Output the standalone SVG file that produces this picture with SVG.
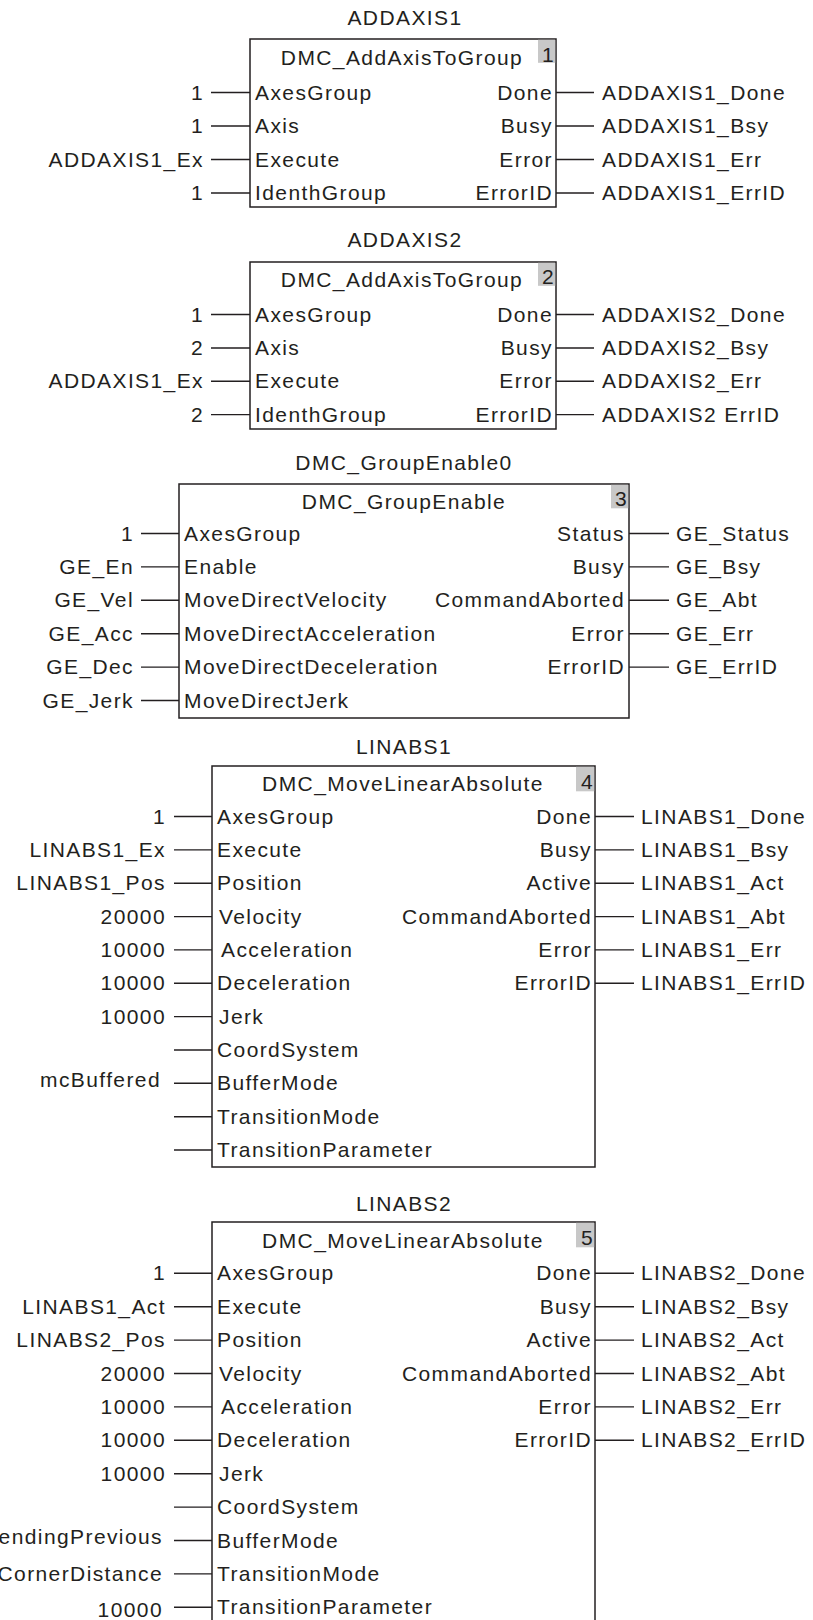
<svg xmlns="http://www.w3.org/2000/svg" width="813" height="1620" viewBox="0 0 813 1620">
<style>
.t{font-family:"Liberation Sans",Arial,sans-serif;font-size:21px;letter-spacing:1.4px;fill:#231f20}
.e{text-anchor:end}
.m{text-anchor:middle}
.box{fill:#fff;stroke:#231f20;stroke-width:1.5}
.badge{fill:#c8c8c8}
.w{stroke:#231f20;stroke-width:1.4;fill:none}
</style>
<rect width="813" height="1620" fill="#fff"/>

<g id="connectors" class="w">
<!-- block 1 -->
<path d="M211 92.5H250M211 126H250M211 159.5H250M211 193H250"/>
<path d="M556 92.5H594M556 126H594M556 159.5H594M556 193H594"/>
<!-- block 2 -->
<path d="M211 314.5H250M211 348H250M211 381.3H250M211 414.6H250"/>
<path d="M556 314.5H594M556 348H594M556 381.3H594M556 414.6H594"/>
<!-- block 3 -->
<path d="M141 533.5H179M141 566.9H179M141 600.3H179M141 633.7H179M141 667.1H179M141 700.5H179"/>
<path d="M629 533.5H669M629 566.9H669M629 600.3H669M629 633.7H669M629 667.1H669"/>
<!-- block 4 -->
<path d="M174 816.5H212M174 849.9H212M174 883.2H212M174 916.6H212M174 949.9H212M174 983.3H212M174 1016.6H212M174 1050H212M174 1083.3H212M174 1116.7H212M174 1150H212"/>
<path d="M595 816.5H634M595 849.9H634M595 883.2H634M595 916.6H634M595 949.9H634M595 983.3H634"/>
<!-- block 5 -->
<path d="M174 1273.3H212M174 1306.7H212M174 1340.1H212M174 1373.5H212M174 1406.9H212M174 1440.3H212M174 1473.7H212M174 1507.1H212M174 1540.5H212M174 1573.9H212M174 1607.3H212"/>
<path d="M595 1273.3H634M595 1306.7H634M595 1340.1H634M595 1373.5H634M595 1406.9H634M595 1440.3H634"/>
</g>

<g id="ADDAXIS1">
<rect class="box" x="250" y="39" width="306" height="168"/>
<rect class="badge" x="538" y="39.8" width="17.2" height="23"/>
<text class="t m" x="405" y="25">ADDAXIS1</text>
<text class="t m" x="402" y="65">DMC_AddAxisToGroup</text>
<text class="t e" x="555" y="61.5">1</text>
<text class="t e" x="204" y="99.5">1</text>
<text class="t e" x="204" y="133">1</text>
<text class="t e" x="204" y="166.5">ADDAXIS1_Ex</text>
<text class="t e" x="204" y="200">1</text>
<text class="t" x="255" y="99.5">AxesGroup</text>
<text class="t" x="255" y="133">Axis</text>
<text class="t" x="255" y="166.5">Execute</text>
<text class="t" x="255" y="200">IdenthGroup</text>
<text class="t e" x="553" y="99.5">Done</text>
<text class="t e" x="553" y="133">Busy</text>
<text class="t e" x="553" y="166.5">Error</text>
<text class="t e" x="553" y="200">ErrorID</text>
<text class="t" x="602" y="99.5">ADDAXIS1_Done</text>
<text class="t" x="602" y="133">ADDAXIS1_Bsy</text>
<text class="t" x="602" y="166.5">ADDAXIS1_Err</text>
<text class="t" x="602" y="200">ADDAXIS1_ErrID</text>
</g>

<g id="ADDAXIS2">
<rect class="box" x="250" y="262" width="306" height="167"/>
<rect class="badge" x="538" y="262.8" width="17.2" height="23"/>
<text class="t m" x="405" y="247">ADDAXIS2</text>
<text class="t m" x="402" y="287">DMC_AddAxisToGroup</text>
<text class="t e" x="555" y="284">2</text>
<text class="t e" x="204" y="321.5">1</text>
<text class="t e" x="204" y="355">2</text>
<text class="t e" x="204" y="388.3">ADDAXIS1_Ex</text>
<text class="t e" x="204" y="421.6">2</text>
<text class="t" x="255" y="321.5">AxesGroup</text>
<text class="t" x="255" y="355">Axis</text>
<text class="t" x="255" y="388.3">Execute</text>
<text class="t" x="255" y="421.6">IdenthGroup</text>
<text class="t e" x="553" y="321.5">Done</text>
<text class="t e" x="553" y="355">Busy</text>
<text class="t e" x="553" y="388.3">Error</text>
<text class="t e" x="553" y="421.6">ErrorID</text>
<text class="t" x="602" y="321.5">ADDAXIS2_Done</text>
<text class="t" x="602" y="355">ADDAXIS2_Bsy</text>
<text class="t" x="602" y="388.3">ADDAXIS2_Err</text>
<text class="t" x="602" y="421.6">ADDAXIS2 ErrID</text>
</g>

<g id="DMC_GroupEnable0">
<rect class="box" x="179" y="484" width="450" height="234"/>
<rect class="badge" x="611" y="484.8" width="17.2" height="23.5"/>
<text class="t m" x="404" y="470">DMC_GroupEnable0</text>
<text class="t m" x="404" y="509">DMC_GroupEnable</text>
<text class="t e" x="628" y="506">3</text>
<text class="t e" x="134" y="540.5">1</text>
<text class="t e" x="134" y="573.9">GE_En</text>
<text class="t e" x="134" y="607.3">GE_Vel</text>
<text class="t e" x="134" y="640.7">GE_Acc</text>
<text class="t e" x="134" y="674.1">GE_Dec</text>
<text class="t e" x="134" y="707.5">GE_Jerk</text>
<text class="t" x="184" y="540.5">AxesGroup</text>
<text class="t" x="184" y="573.9">Enable</text>
<text class="t" x="184" y="607.3">MoveDirectVelocity</text>
<text class="t" x="184" y="640.7">MoveDirectAcceleration</text>
<text class="t" x="184" y="674.1">MoveDirectDeceleration</text>
<text class="t" x="184" y="707.5">MoveDirectJerk</text>
<text class="t e" x="625" y="540.5">Status</text>
<text class="t e" x="625" y="573.9">Busy</text>
<text class="t e" x="625" y="607.3">CommandAborted</text>
<text class="t e" x="625" y="640.7">Error</text>
<text class="t e" x="625" y="674.1">ErrorID</text>
<text class="t" x="676" y="540.5">GE_Status</text>
<text class="t" x="676" y="573.9">GE_Bsy</text>
<text class="t" x="676" y="607.3">GE_Abt</text>
<text class="t" x="676" y="640.7">GE_Err</text>
<text class="t" x="676" y="674.1">GE_ErrID</text>
</g>

<g id="LINABS1">
<rect class="box" x="212" y="766" width="383" height="401"/>
<rect class="badge" x="576" y="766.8" width="18.2" height="24.5"/>
<text class="t m" x="404" y="754">LINABS1</text>
<text class="t m" x="403" y="791">DMC_MoveLinearAbsolute</text>
<text class="t e" x="594" y="788.5">4</text>
<text class="t e" x="166" y="823.5">1</text>
<text class="t e" x="166" y="856.9">LINABS1_Ex</text>
<text class="t e" x="166" y="890.2">LINABS1_Pos</text>
<text class="t e" x="166" y="923.6">20000</text>
<text class="t e" x="166" y="956.9">10000</text>
<text class="t e" x="166" y="990.3">10000</text>
<text class="t e" x="166" y="1023.6">10000</text>
<text class="t e" x="161" y="1086.8">mcBuffered</text>
<text class="t" x="217" y="823.5">AxesGroup</text>
<text class="t" x="217" y="856.9">Execute</text>
<text class="t" x="217" y="890.2">Position</text>
<text class="t" x="219" y="923.6">Velocity</text>
<text class="t" x="221" y="956.9">Acceleration</text>
<text class="t" x="217" y="990.3">Deceleration</text>
<text class="t" x="219" y="1023.6">Jerk</text>
<text class="t" x="217" y="1057">CoordSystem</text>
<text class="t" x="217" y="1090.3">BufferMode</text>
<text class="t" x="217" y="1123.7">TransitionMode</text>
<text class="t" x="217" y="1157">TransitionParameter</text>
<text class="t e" x="592" y="823.5">Done</text>
<text class="t e" x="592" y="856.9">Busy</text>
<text class="t e" x="592" y="890.2">Active</text>
<text class="t e" x="592" y="923.6">CommandAborted</text>
<text class="t e" x="592" y="956.9">Error</text>
<text class="t e" x="592" y="990.3">ErrorID</text>
<text class="t" x="641" y="823.5">LINABS1_Done</text>
<text class="t" x="641" y="856.9">LINABS1_Bsy</text>
<text class="t" x="641" y="890.2">LINABS1_Act</text>
<text class="t" x="641" y="923.6">LINABS1_Abt</text>
<text class="t" x="641" y="956.9">LINABS1_Err</text>
<text class="t" x="641" y="990.3">LINABS1_ErrID</text>
</g>

<g id="LINABS2">
<rect class="box" x="212" y="1222" width="383" height="420"/>
<rect class="badge" x="576" y="1222.8" width="18.2" height="24.5"/>
<text class="t m" x="404" y="1211">LINABS2</text>
<text class="t m" x="403" y="1248">DMC_MoveLinearAbsolute</text>
<text class="t e" x="594" y="1244.5">5</text>
<text class="t e" x="166" y="1280.3">1</text>
<text class="t e" x="166" y="1313.7">LINABS1_Act</text>
<text class="t e" x="166" y="1347.1">LINABS2_Pos</text>
<text class="t e" x="166" y="1380.5">20000</text>
<text class="t e" x="166" y="1413.9">10000</text>
<text class="t e" x="166" y="1447.3">10000</text>
<text class="t e" x="166" y="1480.7">10000</text>
<text class="t e" x="163" y="1544">mcBlendingPrevious</text>
<text class="t e" x="163" y="1580.5">mcTMCornerDistance</text>
<text class="t e" x="163" y="1617">10000</text>
<text class="t" x="217" y="1280.3">AxesGroup</text>
<text class="t" x="217" y="1313.7">Execute</text>
<text class="t" x="217" y="1347.1">Position</text>
<text class="t" x="219" y="1380.5">Velocity</text>
<text class="t" x="221" y="1413.9">Acceleration</text>
<text class="t" x="217" y="1447.3">Deceleration</text>
<text class="t" x="219" y="1480.7">Jerk</text>
<text class="t" x="217" y="1514.1">CoordSystem</text>
<text class="t" x="217" y="1547.5">BufferMode</text>
<text class="t" x="217" y="1580.9">TransitionMode</text>
<text class="t" x="217" y="1614.3">TransitionParameter</text>
<text class="t e" x="592" y="1280.3">Done</text>
<text class="t e" x="592" y="1313.7">Busy</text>
<text class="t e" x="592" y="1347.1">Active</text>
<text class="t e" x="592" y="1380.5">CommandAborted</text>
<text class="t e" x="592" y="1413.9">Error</text>
<text class="t e" x="592" y="1447.3">ErrorID</text>
<text class="t" x="641" y="1280.3">LINABS2_Done</text>
<text class="t" x="641" y="1313.7">LINABS2_Bsy</text>
<text class="t" x="641" y="1347.1">LINABS2_Act</text>
<text class="t" x="641" y="1380.5">LINABS2_Abt</text>
<text class="t" x="641" y="1413.9">LINABS2_Err</text>
<text class="t" x="641" y="1447.3">LINABS2_ErrID</text>
</g>
</svg>
